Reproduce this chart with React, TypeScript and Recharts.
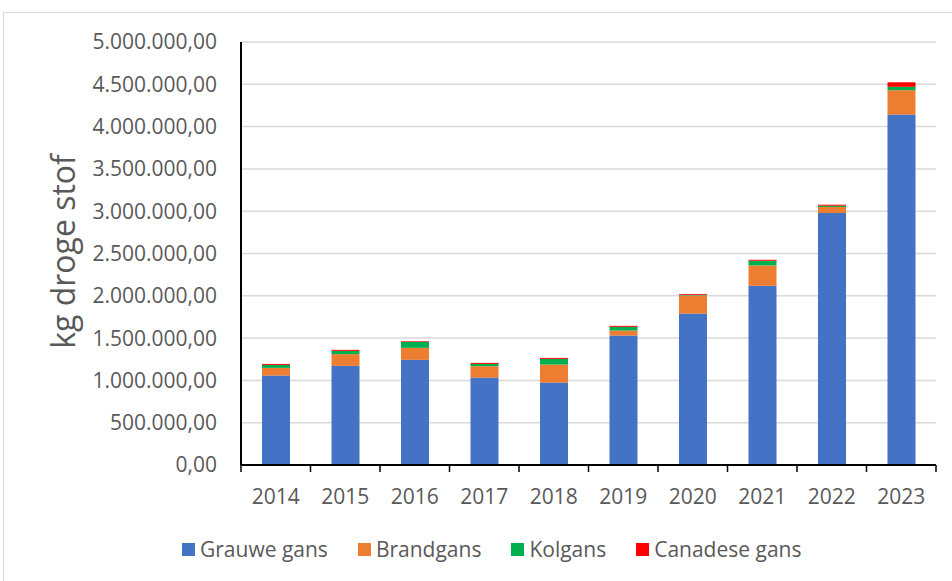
import { BarChart, Bar, XAxis, YAxis, CartesianGrid } from 'recharts'

const years = ['2014', '2015', '2016', '2017', '2018', '2019', '2020', '2021', '2022', '2023']
const grauweGans = [1057000, 1172000, 1243000, 1033000, 974000, 1530000, 1790000, 2118000, 2979000, 4142000]
const brandgans = [91000, 138000, 142000, 135000, 213000, 59000, 214000, 241000, 71000, 288000]
const kolgans = [35000, 39000, 71000, 27000, 67000, 44000, 5000, 55000, 15000, 40000]
const canadeseGans = [12000, 12000, 8000, 12000, 12000, 12000, 10000, 12000, 12000, 54000]
const yTicks = [0, 500000, 1000000, 1500000, 2000000, 2500000, 3000000, 3500000, 4000000, 4500000, 5000000]

const series = [
  { key: 'grauwe', name: 'Grauwe gans', color: '#4472C4' },
  { key: 'brand', name: 'Brandgans', color: '#ED7D31' },
  { key: 'kol', name: 'Kolgans', color: '#00B050' },
  { key: 'canadese', name: 'Canadese gans', color: '#FF0000' },
]

const data = years.map((year, i) => ({
  year,
  grauwe: grauweGans[i],
  brand: brandgans[i],
  kol: kolgans[i],
  canadese: canadeseGans[i],
}))

const FONT = '"Open Sans", sans-serif'
const TEXT = '#595959'
const PLOT_LEFT = 241
const PLOT_RIGHT = 936
const BAND = (PLOT_RIGHT - PLOT_LEFT) / years.length

// dutch number format: 1.500.000,00
function fmt(v: number) {
  const s = Math.round(v).toString().replace(/\B(?=(\d{3})+(?!\d))/g, '.')
  return s + ',00'
}

function XTick(props: any) {
  const { x, payload, index } = props
  const last = index === years.length - 1
  return (
    <g>
      <line x1={x - BAND / 2} y1={465} x2={x - BAND / 2} y2={472} stroke="#000" strokeWidth={1.5} />
      {last && <line x1={x + BAND / 2} y1={465} x2={x + BAND / 2} y2={472} stroke="#000" strokeWidth={1.5} />}
      <text x={x} y={496} textAnchor="middle" dominantBaseline="central" fill={TEXT} fontSize={21} fontFamily={FONT}>
        {payload.value}
      </text>
    </g>
  )
}

function ChartLegend() {
  return (
    <div
      style={{
        position: 'absolute',
        left: 182,
        top: 534,
        height: 30,
        display: 'flex',
        alignItems: 'center',
        fontFamily: FONT,
        fontSize: 21,
        color: TEXT,
        whiteSpace: 'nowrap',
      }}
    >
      {series.map((s) => (
        <div key={s.key} style={{ display: 'flex', alignItems: 'center', marginRight: 30 }}>
          <span style={{ display: 'inline-block', width: 13, height: 13, background: s.color, marginRight: 5 }} />
          <span>{s.name}</span>
        </div>
      ))}
    </div>
  )
}

export default function App() {
  return (
    <div style={{ position: 'absolute', left: 0, top: 0, width: 952, height: 581, background: '#fff' }}>
      <div style={{ position: 'absolute', left: 3, top: 12, width: 949, height: 569, borderLeft: '1px solid #d9d9d9', borderTop: '1px solid #d9d9d9' }} />
      <BarChart
        width={952}
        height={581}
        data={data}
        margin={{ top: 42, right: 952 - PLOT_RIGHT, bottom: 86, left: 0 }}
        barSize={28}
        style={{ position: 'absolute', left: 0, top: 0 }}
      >
        <CartesianGrid vertical={false} stroke="#d9d9d9" strokeWidth={1.5} />
        <XAxis
          dataKey="year"
          height={30}
          axisLine={{ stroke: '#000', strokeWidth: 2 }}
          tickLine={false}
          tick={<XTick />}
          interval={0}
        />
        <YAxis
          width={PLOT_LEFT}
          domain={[0, 5000000]}
          ticks={yTicks}
          tickFormatter={fmt}
          axisLine={{ stroke: '#000', strokeWidth: 2 }}
          tickLine={false}
          tickSize={0}
          tickMargin={24}
          tick={{ fill: TEXT, fontSize: 21, fontFamily: FONT }}
          label={{
            content: () => (
              <text
                x={62}
                y={251.5}
                textAnchor="middle"
                dominantBaseline="central"
                transform="rotate(-90, 62, 251.5)"
                fill={TEXT}
                fontSize={32}
                fontFamily={FONT}
              >
                kg droge stof
              </text>
            ),
          }}
        />
        {series.map((s) => (
          <Bar key={s.key} dataKey={s.key} name={s.name} stackId="a" fill={s.color} isAnimationActive={false} />
        ))}
      </BarChart>
      <ChartLegend />
    </div>
  )
}
